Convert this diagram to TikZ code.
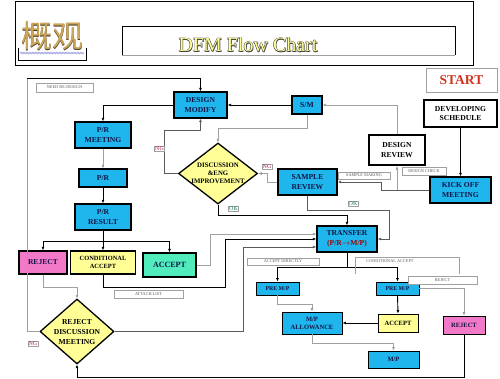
\documentclass[tikz,border=0pt]{standalone}
\usepackage{fontspec}
\setmainfont{Liberation Serif}
\newfontfamily\cjkfont{Noto Sans CJK SC}
\usetikzlibrary{shapes.geometric,arrows.meta,decorations.pathmorphing}
\definecolor{boxblue}{RGB}{30,182,236}
\definecolor{navy}{RGB}{20,20,70}
\definecolor{pinkbox}{RGB}{242,120,200}
\definecolor{yelbox}{RGB}{255,255,150}
\definecolor{mintbox}{RGB}{80,236,188}
\definecolor{lgrey}{RGB}{160,160,160}
\definecolor{dgrey}{RGB}{90,90,90}
\definecolor{titleyel}{RGB}{255,255,150}
\definecolor{gold}{RGB}{205,165,90}
\definecolor{ngcol}{RGB}{170,30,100}
\definecolor{okcol}{RGB}{30,130,100}
\tikzset{
  box/.style={draw=black, line width=1.4pt, fill=boxblue, text=navy, font=\bfseries\fontsize{7.6}{9.5}\selectfont, align=center, inner sep=0pt},
  wbox/.style={draw=black, line width=2pt, fill=white, text=black, font=\bfseries\fontsize{7.6}{9.5}\selectfont, align=center, inner sep=0pt},
  tbox/.style={box, line width=0.9pt},
  dia/.style={diamond, draw=black, line width=1.3pt, fill=yelbox, inner sep=0pt},
  diatext/.style={text=black, font=\bfseries\fontsize{6.8}{8.2}\selectfont, align=center, inner sep=0pt},
  lab/.style={draw=lgrey, line width=0.5pt, fill=white, text=dgrey, font=\fontsize{4.3}{5}\selectfont, inner sep=0pt},
  nglab/.style={draw=lgrey, line width=0.5pt, fill=white, text=ngcol, font=\fontsize{6}{7}\selectfont, inner sep=0.6pt},
  oklab/.style={draw=lgrey, line width=0.5pt, fill=white, text=okcol, font=\fontsize{6}{7}\selectfont, inner sep=0.6pt},
  arr/.style={draw=black, line width=0.9pt, -{Latex[length=3.5pt,width=3pt]}},
  darr/.style={draw=dgrey, line width=0.9pt, -{Latex[length=3.5pt,width=3pt]}},
  garr/.style={draw=lgrey, line width=0.9pt, -{Latex[length=3.5pt,width=3pt,fill=black]}},
  bln/.style={draw=black, line width=0.9pt},
  gln/.style={draw=lgrey, line width=0.9pt},
}
\begin{document}
\begin{tikzpicture}[x=1pt,y=-1pt]
\useasboundingbox (0,0) rectangle (500,378);
\fill[white] (0,0) rectangle (500,378);

% header
\draw[line width=0.8pt] (15,1) rectangle (473,65);
\draw[line width=0.8pt] (18,48) -- (18,60) -- (86,60) -- (86,48);
\draw[draw={rgb,255:red,170;green,170;blue,230}, line width=1.2pt, decorate, decoration={snake, amplitude=0.6pt, segment length=3pt}] (20,53) -- (84,53);
\node[text=black!70!gold, font=\cjkfont\fontsize{31}{31}\selectfont, inner sep=0pt] (cjkshadow) at (52.8,36.8) {概观};
\node[text=gold, font=\cjkfont\fontsize{31}{31}\selectfont, inner sep=0pt] (cjk) at (52,36) {概观};
\draw[line width=0.8pt] (122,55) -- (122,26) -- (455,26) -- (455,55);
\draw[lgrey, line width=0.5pt] (122,55) -- (455,55);
\foreach \dx/\dy [count=\i] in {0.4/0, -0.4/0, 0/0.4, 0/-0.4, 0.7/0.7} {
  \node[text=black!75, font=\fontsize{20}{20}\selectfont, inner sep=0pt] (ttl\i) at (248+\dx,45+\dy) {DFM Flow Chart};
}
\node[text=titleyel, font=\fontsize{20}{20}\selectfont, inner sep=0pt] (title) at (248,45) {DFM Flow Chart};

% top right
\node[draw=lgrey, line width=0.6pt, fill=white, text={rgb,255:red,210;green,50;blue,30}, font=\bfseries\fontsize{13.5}{13.5}\selectfont, minimum width=71pt, minimum height=24pt, inner sep=0pt] (start) at (461.5,80) {START};
\node[wbox, minimum width=73pt, minimum height=27pt] (dev) at (460.5,113.5) {DEVELOPING\\SCHEDULE};
\node[box, minimum width=61pt, minimum height=26pt] (kick) at (460.5,190) {KICK OFF\\MEETING};
\node[wbox, minimum width=56pt, minimum height=30pt] (drv) at (397,150) {DESIGN\\REVIEW};
\node[box, minimum width=30pt, minimum height=18pt] (sm) at (307,105) {S/M};
\node[box, minimum width=59pt, minimum height=26pt] (sr) at (307.5,182) {SAMPLE\\REVIEW};

% left column
\node[box, minimum width=53pt, minimum height=26pt] (dm) at (200.5,105) {DESIGN\\MODIFY};
\node[box, minimum width=56pt, minimum height=26pt] (prm) at (103,135) {P/R\\MEETING};
\node[box, minimum width=48pt, minimum height=18pt] (pr) at (103,178) {P/R};
\node[box, minimum width=56pt, minimum height=26pt] (prr) at (103,217) {P/R\\RESULT};
\node[box, fill=pinkbox, text=navy, minimum width=48pt, minimum height=23pt] (rej1) at (43,262.5) {REJECT};
\node[box, fill=yelbox, text=black, font=\bfseries\fontsize{6.4}{8}\selectfont, minimum width=65pt, minimum height=23pt] (cond) at (103,262.5) {CONDITIONAL\\ACCEPT};
\node[box, fill=mintbox, text=navy, font=\bfseries\fontsize{8}{9}\selectfont, minimum width=53pt, minimum height=24pt] (acc1) at (169.5,265) {ACCEPT};

% diamonds
\node[dia, minimum width=79pt, minimum height=61pt] (disc) at (218,173.5) {};
\node[diatext] (disct) at (218,173.5) {DISCUSSION\\\&ENG\\IMPROVEMENT};
\node[dia, minimum width=74pt, minimum height=65pt] (rdm) at (77,331.5) {};
\node[diatext, font=\bfseries\fontsize{7.6}{10}\selectfont] (rdmt) at (77,332) {REJECT\\DISCUSSION\\MEETING};

% transfer and lower right
\node[box, minimum width=60pt, minimum height=26pt] (tr) at (347,239) {TRANSFER\\{\color{red!65!black}(P/R$\rightarrow$M/P)}};
\node[tbox, font=\bfseries\fontsize{5.8}{7}\selectfont, minimum width=43pt, minimum height=13pt] (pm1) at (277.5,288.5) {PRE M/P};
\node[tbox, font=\bfseries\fontsize{5.8}{7}\selectfont, minimum width=43pt, minimum height=13pt] (pm2) at (397.5,288.5) {PRE M/P};
\node[tbox, font=\bfseries\fontsize{6.5}{8}\selectfont, minimum width=60pt, minimum height=22pt] (mpa) at (312,323) {M/P\\ALLOWANCE};
\node[tbox, fill=yelbox, text=black, font=\bfseries\fontsize{6.5}{8}\selectfont, minimum width=40pt, minimum height=18pt] (acc2) at (398,323) {ACCEPT};
\node[tbox, fill=pinkbox, text=navy, font=\bfseries\fontsize{6.5}{8}\selectfont, minimum width=42pt, minimum height=18pt] (rej2) at (464,325) {REJECT};
\node[tbox, font=\bfseries\fontsize{6.5}{8}\selectfont, minimum width=51pt, minimum height=17pt] (mp) at (393.5,359.5) {M/P};

% connectors, left part
\draw[arr] (dm.west) -| (prm.north);
\draw[garr] (prm.south) -- (pr.north);
\draw[arr] (pr.south) -- (prr.north);
\coordinate (pb) at (103,241);
\draw[bln] (prr.south) -- (pb);
\draw[arr] (pb) -| (rej1.north);
\draw[arr] (pb) -- (cond.north);
\draw[arr] (pb) -| (acc1.north);
\draw[garr] (rej1.south) -- ++(0,13) -| (rdm.north);
\coordinate (tl) at (27,78);
\draw[gln] (rdm.west) -| (tl);
\draw[arr] (tl) -| (dm.north);
\draw[darr] (disc.west) -- ++(-13,0) -- ++(0,-43.5) -| (dm.south);
\draw[arr] (sm.west) -- (dm.east);
\draw[garr] (sm.south) -- ++(0,14) -| (disc.north);
\draw[garr] (drv.north) |- (sm.east);
\draw[arr] (dev.south) -- (kick.north);
\draw[darr] (kick.west) -- ++(-48,0) |- (sr.east);
\draw[garr] (drv.south |- kick.west) -- (drv.south);
\draw[garr] (sr.west) -- ++(-10,0) |- (disc.east);
\draw[darr] (sr.south) -- ++(0,15) -- ++(81.5,0) |- (tr.east);
\draw[arr] (disc.south) -- ++(0,11) -| (tr.north);
\draw[garr] (acc1.east) -- ++(14,0) |- ([yshift=5pt]tr.west);
\draw[arr] (cond.south) -- ++(0,13) -- ++(122,0) |- (tr.west);
\draw[darr] (rdm.east) -- ++(129,0) |- ([yshift=-8pt]tr.west);

% connectors, lower right
\coordinate (tb) at (347,267);
\draw[bln] (tr.south) -- (tb);
\draw[arr] (tb) -| (pm1.north);
\draw[arr] (tb) -| (pm2.north);
\draw[garr] (pm2.east) -| (rej2.north);
\draw[garr] (pm1.south) -- ++(0,9) -| (mpa.north);
\draw[arr] (pm2.south) -- (acc2.north);
\draw[arr] (acc2.west) -- (mpa.east);
\draw[garr] (mpa.south) -- ++(0,9) -| (mp.north);
\draw[arr] (rej2.south) -- ++(0,43) -| (rdm.south);

% labels
\node[lab, minimum width=57pt, minimum height=9pt] (l1) at (64.5,87.5) {NEED RE-DESIGN};
\node[nglab] (ng1) at (33,344) {NG};
\node[nglab] (ng2) at (159.5,149) {NG};
\node[nglab] (ng3) at (267,166.5) {NG};
\node[oklab] (ok1) at (233.5,209) {OK};
\node[oklab] (ok2) at (353,203.5) {OK};
\node[lab, minimum width=52pt, minimum height=7pt] (l2) at (364,175.5) {SAMPLE MAKING};
\node[lab, minimum width=44pt, minimum height=8pt] (l3) at (424,171) {DESIGN CHECK};
\node[lab, minimum width=69pt, minimum height=8pt] (l4) at (148.5,294) {ATTACH LIST};
\node[lab, minimum width=72pt, minimum height=7pt] (l5) at (283,261.5) {ACCEPT DIRECTLY};
\draw[gln, line width=0.5pt] (355,274) -- (355,257) -- (459,257) -- (459,274);
\node[text=dgrey, font=\fontsize{4.3}{5}\selectfont, inner sep=0pt] (l6) at (390,261) {CONDITIONAL ACCEPT};
\node[lab, minimum width=69pt, minimum height=8pt] (l7) at (442.5,280) {REJECT};
\end{tikzpicture}
\end{document}
